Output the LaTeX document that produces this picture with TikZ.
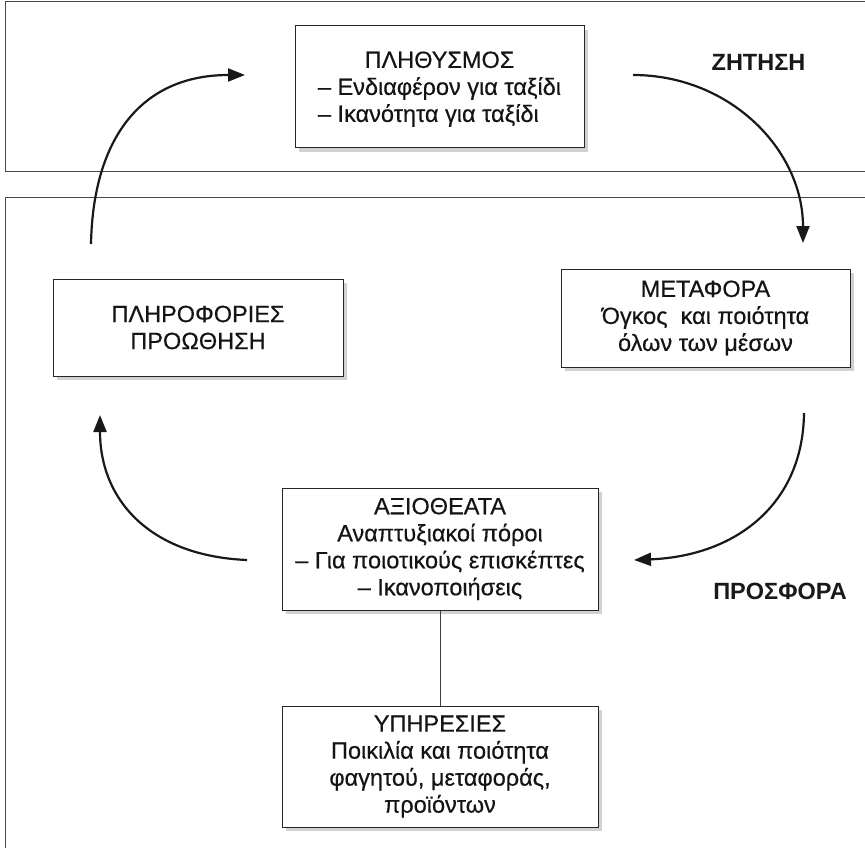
\documentclass[tikz,border=0pt]{standalone}
\usepackage{fontspec}
\setmainfont[FakeBold=0.4]{Liberation Sans}
\newfontfamily\labelfont{Liberation Sans}
\usetikzlibrary{arrows.meta,shadows}

\begin{document}
\begin{tikzpicture}[x=1pt,y=-1pt,
  frame/.style={draw=black!72,line width=1pt},
  card/.style={draw=black!85,line width=1pt,fill=white,inner sep=0pt,align=center,
    font=\fontsize{23.5}{27}\selectfont,text=black!92,
    drop shadow={shadow xshift=4pt,shadow yshift=-4pt,fill=black!18,opacity=1}},
  flow/.style={line width=2.2pt,draw=black!90,-{Triangle[length=17pt,width=13pt]}},
  link/.style={draw=black!75,line width=1pt},
  side/.style={font=\labelfont\bfseries\fontsize{23.5}{27}\selectfont,text=black!90}]

\useasboundingbox (0,0) rectangle (865,848);
\fill[white] (0,0) rectangle (865,848);

% demand and supply frames (open to the right)
\draw[frame] (866,2) -- (5,2) -- (5,172) -- (866,172);
\draw[frame] (866,197) -- (5,197) -- (5,849);

% free ends of the cycle arrows
\coordinate (upL0) at (91,244);  \coordinate (upL1) at (245,75);
\coordinate (upR0) at (633,75);  \coordinate (upR1) at (803,243);
\coordinate (loR0) at (804,413); \coordinate (loR1) at (634,560);
\coordinate (loL0) at (247,560); \coordinate (loL1) at (100,415);

\draw[flow] (upL0) .. controls +(2,-104) and +(-105,0) .. (upL1);
\draw[flow] (upR0) .. controls +(97,0) and +(0,-93) .. (upR1);
\draw[flow] (loR0) .. controls +(-1,92) and +(101,-4) .. (loR1);
\draw[flow] (loL0) .. controls +(-97,-4) and +(0,85) .. (loL1);

% boxes
\node[card,minimum width=289pt,minimum height=122pt] (pop) at (439.5,87)
  {\raisebox{-2.5pt}[\height][\depth]{\begin{tabular}{@{}l@{}}\multicolumn{1}{@{}c@{}}{ΠΛΗΘΥΣΜΟΣ}\\
   – Ενδιαφέρον για ταξίδι\\
   – Ικανότητα για ταξίδι\end{tabular}}};

\node[card,minimum width=290pt,minimum height=97pt] (info) at (198,327.5)
  {ΠΛΗΡΟΦΟΡΙΕΣ\\ΠΡΟΩΘΗΣΗ};

\node[card,minimum width=289pt,minimum height=98pt] (trans) at (705.5,318)
  {ΜΕΤΑΦΟΡΑ\\Όγκος\ \ και ποιότητα\\όλων των μέσων};

\node[card,minimum width=316pt,minimum height=122pt] (attr) at (440,549)
  {ΑΞΙΟΘΕΑΤΑ\\Αναπτυξιακοί πόροι\\– Για ποιοτικούς επισκέπτες\\– Ικανοποιήσεις};

\node[card,minimum width=316pt,minimum height=121pt] (serv) at (440,766.5)
  {ΥΠΗΡΕΣΙΕΣ\\Ποικιλία και ποιότητα\\φαγητού, μεταφοράς,\\προϊόντων};

\draw[link] (attr.south) -- (serv.north);

% side labels
\node[side] (demand) at (758.5,62) {ΖΗΤΗΣΗ};
\node[side] (supply) at (780,591) {ΠΡΟΣΦΟΡΑ};

\end{tikzpicture}
\end{document}
